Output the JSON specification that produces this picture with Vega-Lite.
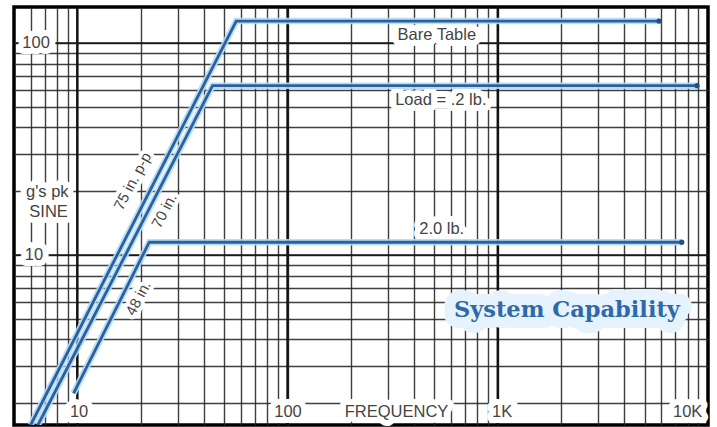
{
  "$schema": "https://vega.github.io/schema/vega-lite/v6.json",
  "width": 694,
  "height": 418,
  "autosize": {"type": "none"},
  "padding": {"left": 14, "top": 7, "right": 9, "bottom": 2},
  "background": "white",
  "config": {
    "view": {"stroke": "#000000", "strokeWidth": 3.5},
    "text": {"font": "Liberation Sans"}
  },
  "datasets": {
    "lines": [
      {"series": "Bare Table", "o": 0, "f": 6.0, "g": 1.58},
      {"series": "Bare Table", "o": 1, "f": 57, "g": 127},
      {"series": "Bare Table", "o": 2, "f": 5850, "g": 127},
      {"series": "Load .2 lb", "o": 0, "f": 6.5, "g": 1.58},
      {"series": "Load .2 lb", "o": 1, "f": 44, "g": 63},
      {"series": "Load .2 lb", "o": 2, "f": 8870, "g": 63},
      {"series": "2.0 lb", "o": 0, "f": 9.6, "g": 2.23},
      {"series": "2.0 lb", "o": 1, "f": 22, "g": 11.5},
      {"series": "2.0 lb", "o": 2, "f": 7500, "g": 11.5}
    ],
    "labels": [
      {"f": 6.37, "g": 100, "text": "100"},
      {"f": 6.22, "g": 10, "text": "10"},
      {"f": 10.2, "g": 1.82, "text": "10"},
      {"f": 100.5, "g": 1.82, "text": "100"},
      {"f": 1050, "g": 1.82, "text": "1K"},
      {"f": 8000, "g": 1.82, "text": "10K"},
      {"f": 330, "g": 1.82, "text": "FREQUENCY"},
      {"f": 7.2, "g": 19.8, "text": "g's pk"},
      {"f": 7.3, "g": 16.0, "text": "SINE"},
      {"f": 513, "g": 109, "text": "Bare Table"},
      {"f": 536, "g": 53.8, "text": "Load = .2 lb."},
      {"f": 541, "g": 13.3, "text": "2.0 lb."}
    ],
    "rotated": [
      {"f": 18.3, "g": 22.3, "text": "75 in. p-p"},
      {"f": 25.9, "g": 16.2, "text": "70 in."},
      {"f": 19.5, "g": 6.27, "text": "48 in."}
    ],
    "title": [
      {"f": 2133, "g": 5.5, "text": "System Capability"}
    ],
    "majorsX": [{"f": 10}, {"f": 100}, {"f": 1000}],
    "majorsY": [{"g": 10}, {"g": 100}]
  },
  "layer": [
    {
      "data": {"name": "majorsX"},
      "mark": {"type": "rule", "color": "#111111", "strokeWidth": 2.4},
      "encoding": {
        "x": {
          "field": "f", "type": "quantitative",
          "scale": {"type": "log", "domain": [5, 10000], "nice": false},
          "axis": {
            "values": [6,7,8,9,10,20,30,40,50,60,70,80,90,100,200,300,400,500,600,700,800,900,1000,2000,3000,4000,5000,6000,7000,8000,9000],
            "grid": true, "gridColor": "#2a2a2a", "gridWidth": 1.4, "gridOpacity": 0.9,
            "labels": false, "ticks": false, "domain": false, "title": null
          }
        }
      }
    },
    {
      "data": {"name": "majorsY"},
      "mark": {"type": "rule", "color": "#1a1a1a", "strokeWidth": 1.8},
      "encoding": {
        "y": {
          "field": "g", "type": "quantitative",
          "scale": {"type": "log", "domain": [1.58, 148], "nice": false},
          "axis": {
            "values": [2,3,4,5,6,7,8,9,10,20,30,40,50,60,70,80,90,100],
            "grid": true, "gridColor": "#2a2a2a", "gridWidth": 1.4, "gridOpacity": 0.9,
            "labels": false, "ticks": false, "domain": false, "title": null
          }
        }
      }
    },
    {
      "data": {"name": "labels"},
      "mark": {"type": "text", "fontSize": 16.5, "align": "center", "baseline": "middle", "stroke": "white", "strokeWidth": 12, "strokeJoin": "round", "fill": "white"},
      "encoding": {
        "x": {"field": "f", "type": "quantitative"},
        "y": {"field": "g", "type": "quantitative"},
        "text": {"field": "text"}
      }
    },
    {
      "data": {"name": "rotated"},
      "mark": {"type": "text", "fontSize": 15, "angle": -62, "align": "center", "baseline": "middle", "stroke": "white", "strokeWidth": 8, "strokeJoin": "round", "fill": "white"},
      "encoding": {
        "x": {"field": "f", "type": "quantitative"},
        "y": {"field": "g", "type": "quantitative"},
        "text": {"field": "text"}
      }
    },
    {
      "data": {"name": "title"},
      "mark": {"type": "text", "font": "DejaVu Serif", "fontWeight": "bold", "fontSize": 22.5, "align": "center", "baseline": "middle", "stroke": "#e6f3fc", "strokeWidth": 22, "strokeJoin": "round", "fill": "#e6f3fc"},
      "encoding": {
        "x": {"field": "f", "type": "quantitative"},
        "y": {"field": "g", "type": "quantitative"},
        "text": {"field": "text"}
      }
    },
    {
      "data": {"name": "lines"},
      "mark": {"type": "line", "color": "#b3dcf4", "strokeWidth": 6.5, "opacity": 0.9, "clip": true},
      "encoding": {
        "x": {"field": "f", "type": "quantitative"},
        "y": {"field": "g", "type": "quantitative"},
        "detail": {"field": "series"},
        "order": {"field": "o"}
      }
    },
    {
      "data": {"name": "lines"},
      "mark": {"type": "line", "color": "#2b5f9f", "strokeWidth": 2.8, "clip": true},
      "encoding": {
        "x": {"field": "f", "type": "quantitative"},
        "y": {"field": "g", "type": "quantitative"},
        "detail": {"field": "series"},
        "order": {"field": "o"}
      }
    },
    {
      "data": {"name": "lines"},
      "transform": [{"filter": "datum.o == 2"}],
      "mark": {"type": "circle", "color": "#244f86", "size": 28, "opacity": 1},
      "encoding": {
        "x": {"field": "f", "type": "quantitative"},
        "y": {"field": "g", "type": "quantitative"}
      }
    },
    {
      "data": {"name": "labels"},
      "mark": {"type": "text", "fontSize": 16.5, "align": "center", "baseline": "middle", "color": "#444444"},
      "encoding": {
        "x": {"field": "f", "type": "quantitative"},
        "y": {"field": "g", "type": "quantitative"},
        "text": {"field": "text"}
      }
    },
    {
      "data": {"name": "rotated"},
      "mark": {"type": "text", "fontSize": 15, "angle": -62, "align": "center", "baseline": "middle", "color": "#444444"},
      "encoding": {
        "x": {"field": "f", "type": "quantitative"},
        "y": {"field": "g", "type": "quantitative"},
        "text": {"field": "text"}
      }
    },
    {
      "data": {"name": "title"},
      "mark": {"type": "text", "font": "DejaVu Serif", "fontWeight": "bold", "fontSize": 22.5, "align": "center", "baseline": "middle", "color": "#2f69a9"},
      "encoding": {
        "x": {"field": "f", "type": "quantitative"},
        "y": {"field": "g", "type": "quantitative"},
        "text": {"field": "text"}
      }
    }
  ]
}
